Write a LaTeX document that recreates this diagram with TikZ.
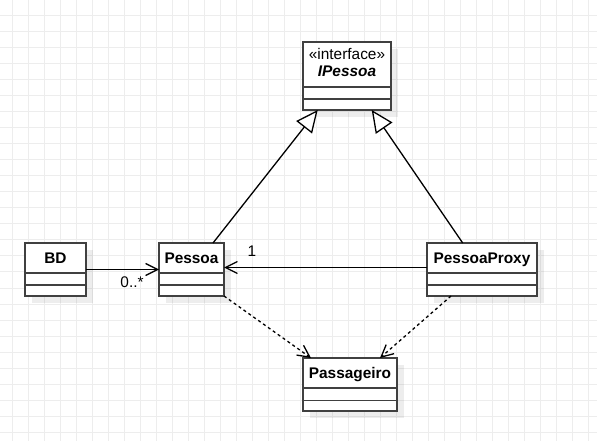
\documentclass[tikz,border=0pt]{standalone}
\usepackage{fontspec}
\setmainfont{Liberation Sans}
\usetikzlibrary{arrows.meta,calc}
\definecolor{gridc}{HTML}{EDEDED}
\definecolor{boxc}{HTML}{404040}
\begin{document}
\begin{tikzpicture}[x=1bp,y=-1bp,
  classbox/.style={draw=boxc,fill=white,line width=1.5bp,inner sep=0pt,outer sep=0pt,rectangle},
  shadowbox/.style={fill=black,opacity=0.07,draw=none},
  sepline/.style={draw=boxc,line width=1.5bp},
  titletext/.style={font=\fontsize{15.4bp}{18bp}\selectfont\bfseries,anchor=base,inner sep=0pt},
  stereo/.style={font=\fontsize{15.4bp}{18bp}\selectfont,anchor=base,inner sep=0pt},
  lbl/.style={font=\fontsize{15.4bp}{18bp}\selectfont,anchor=base,inner sep=0pt},
  assoc/.style={draw=black,line width=1.3bp,-{Straight Barb[length=12bp,width=12bp,line width=1.3bp]}},
  dep/.style={draw=black,line width=1.3bp,dash pattern=on 3bp off 3bp,-{Straight Barb[length=12bp,width=12bp,line width=1.3bp]}},
  real/.style={draw=black,line width=1.3bp,-{Triangle[open,fill=white,length=22bp,width=20bp,line width=1.3bp]}}
]
\useasboundingbox (0,0) rectangle (597,441);
\fill[white] (0,0) rectangle (597,441);
% grid
\foreach \i in {0,...,36} \draw[gridc,line width=1bp] ({12+16*\i},0) -- ({12+16*\i},441);
\foreach \j in {0,...,27} \draw[gridc,line width=1bp] (0,{16*\j}) -- (597,{16*\j});

% shadows
\fill[shadowbox] (310,49) rectangle (398,117);
\fill[shadowbox] (32,250) rectangle (93,303);
\fill[shadowbox] (166,250) rectangle (231,303);
\fill[shadowbox] (434,250) rectangle (544,303);
\fill[shadowbox] (310,365) rectangle (404,418);

% IPessoa
\node[classbox,minimum width=88bp,minimum height=68bp] (ipessoa) at (347,76) {};
\draw[sepline] (303,87) -- (391,87);
\draw[sepline] (303,99) -- (391,99);
\node[stereo] (ipstereo) at (347,59.5) {«interface»};
\node[titletext,font=\fontsize{15.4bp}{18bp}\selectfont\bfseries\itshape] (iptitle) at (347,77) {IPessoa};

% BD
\node[classbox,minimum width=61bp,minimum height=53bp] (bd) at (55.5,269.5) {};
\draw[sepline] (25,273) -- (86,273);
\draw[sepline] (25,285) -- (86,285);
\node[titletext] (bdtitle) at (55.5,264) {BD};

% Pessoa
\node[classbox,minimum width=65bp,minimum height=53bp] (pessoa) at (191.5,269.5) {};
\draw[sepline] (159,273) -- (224,273);
\draw[sepline] (159,285) -- (224,285);
\node[titletext] (ptitle) at (191.5,264) {Pessoa};

% PessoaProxy
\node[classbox,minimum width=110bp,minimum height=53bp] (proxy) at (482,269.5) {};
\draw[sepline] (427,273) -- (537,273);
\draw[sepline] (427,285) -- (537,285);
\node[titletext] (pxtitle) at (482,264) {PessoaProxy};

% Passageiro
\node[classbox,minimum width=94bp,minimum height=53bp] (pass) at (350,384.5) {};
\draw[sepline] (303,388) -- (397,388);
\draw[sepline] (303,400.5) -- (397,400.5);
\node[titletext] (pstitle) at (350,378) {Passageiro};

% connectors
\draw[real] ([xshift=54bp]pessoa.north west) -- ([xshift=14.7bp]ipessoa.south west);
\draw[real] ([xshift=35.7bp]proxy.north west) -- ([xshift=68.7bp]ipessoa.south west);
\draw[assoc] (bd.east) -- (pessoa.west);
\draw[assoc] ([yshift=2bp]proxy.west) -- ([yshift=2bp]pessoa.east);
\draw[dep] (pessoa.south east) -- ([xshift=8bp]pass.north west);
\draw[dep] ([xshift=24bp]proxy.south west) -- ([xshift=77bp]pass.north west);

% labels
\node[lbl] (mult1) at (252,256.7) {1};
\node[lbl] (mult0) at (132,287.7) {0..*};
\end{tikzpicture}
\end{document}
